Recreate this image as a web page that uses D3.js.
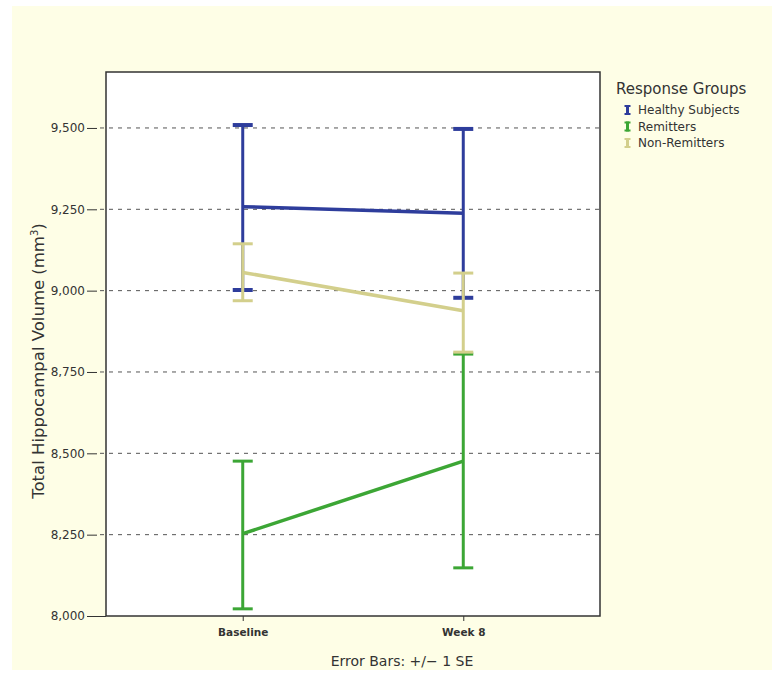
<html>
<head>
    <meta charset="UTF-8">
    <title>Hippocampal volume</title>
    <style>
        body { margin: 0; background: #fff; }
        text { font-family: "DejaVu Sans", "Open Sans", sans-serif; fill: #333; }
    </style>
</head>
<body>
<script src="https://d3js.org/d3.v7.min.js"></script>
<div id="chart"></div>
<script>
    // data
    var timepoints = ["Baseline", "Week 8"];
    var groups = ["Healthy Subjects", "Remitters", "Non-Remitters"];
    var groupColors = ["#2e3d9c", "#3ca635", "#d3cf8c"];
    var means = {
        "Healthy Subjects": [9258, 9238],
        "Remitters": [8253, 8476],
        "Non-Remitters": [9056, 8938]
    };
    var upper = {
        "Healthy Subjects": [9509, 9497],
        "Remitters": [8476, 8805],
        "Non-Remitters": [9144, 9054]
    };
    var lower = {
        "Healthy Subjects": [9002, 8978],
        "Remitters": [8022, 8148],
        "Non-Remitters": [8969, 8811]
    };
    var yTicks = [8000, 8250, 8500, 8750, 9000, 9250, 9500];
    var drawOrder = ["Healthy Subjects", "Remitters", "Non-Remitters"];

    var W = 780, H = 677;
    var margin = {top: 72, left: 106, right: 180, bottom: 61},
        width = W - margin.left - margin.right,
        height = H - margin.top - margin.bottom;

    var svg = d3.select("#chart").append("svg")
        .attr("width", W).attr("height", H);

    // cream page background
    svg.append("rect")
        .attr("x", 12).attr("y", 6)
        .attr("width", 760).attr("height", 664)
        .attr("fill", "#fefee6");

    var g = svg.append("g")
        .attr("transform", `translate(${margin.left},${margin.top})`);

    var x = d3.scalePoint().domain(timepoints).range([0, width]).padding(0.62);
    var y = d3.scaleLinear().domain([8000, 9672]).range([height, 0]);
    var color = d3.scaleOrdinal().domain(groups).range(groupColors);

    g.append("rect")
        .attr("width", width).attr("height", height)
        .attr("fill", "#fff");

    // dashed grid
    g.selectAll(".grid")
        .data(yTicks.filter(d => d > 8000))
        .enter().append("line")
        .attr("x1", -6).attr("x2", width)
        .attr("y1", d => y(d)).attr("y2", d => y(d))
        .attr("stroke", "#555")
        .attr("stroke-width", 1)
        .attr("stroke-dasharray", "4,5");

    // y axis: short tick sitting off the frame, like the original
    var yAxis = g.append("g")
        .call(d3.axisLeft(y).tickValues(yTicks).tickSize(19).tickSizeOuter(0).tickPadding(2).tickFormat(d3.format(",")));
    yAxis.select(".domain").remove();
    yAxis.selectAll("line").attr("stroke", "#333").attr("x2", -19).attr("x1", -9);
    yAxis.selectAll(".tick").filter(d => d === 8000).select("line").attr("x1", 0);
    yAxis.selectAll("text").style("font-size", "12px").attr("fill", "#333");

    // x axis
    var xAxis = g.append("g")
        .attr("transform", `translate(0,${height})`)
        .call(d3.axisBottom(x).tickSize(5).tickSizeOuter(0));
    xAxis.select(".domain").remove();
    xAxis.selectAll("line").attr("stroke", "#333");
    xAxis.selectAll("text").style("font-size", "10.5px").style("font-weight", "bold")
        .attr("fill", "#444").attr("dy", "1.1em");

    // series
    drawOrder.forEach(function(grp) {
        var c = color(grp);
        var pts = timepoints.map((t, i) => ({t: t, m: means[grp][i], hi: upper[grp][i], lo: lower[grp][i]}));
        var capW = 10;
        var layer = g.append("g");
        layer.selectAll(".bar").data(pts).enter().append("line")
            .attr("x1", d => x(d.t)).attr("x2", d => x(d.t))
            .attr("y1", d => y(d.hi)).attr("y2", d => y(d.lo))
            .attr("stroke", c).attr("stroke-width", 3);
        layer.selectAll(".capHi").data(pts).enter().append("line")
            .attr("x1", d => x(d.t) - capW).attr("x2", d => x(d.t) + capW)
            .attr("y1", d => y(d.hi)).attr("y2", d => y(d.hi))
            .attr("stroke", c).attr("stroke-width", grp === "Healthy Subjects" ? 4 : 3);
        layer.selectAll(".capLo").data(pts).enter().append("line")
            .attr("x1", d => x(d.t) - capW).attr("x2", d => x(d.t) + capW)
            .attr("y1", d => y(d.lo)).attr("y2", d => y(d.lo))
            .attr("stroke", c).attr("stroke-width", grp === "Healthy Subjects" ? 4 : 3);
        layer.append("path")
            .datum(pts)
            .attr("fill", "none")
            .attr("stroke", c)
            .attr("stroke-width", 3.5)
            .attr("d", d3.line().x(d => x(d.t)).y(d => y(d.m)));
    });

    // frame
    g.append("rect")
        .attr("width", width).attr("height", height)
        .attr("fill", "none").attr("stroke", "#333").attr("stroke-width", 1.5);

    // y title
    svg.append("text")
        .attr("transform", `translate(44,361) rotate(-90)`)
        .attr("text-anchor", "middle")
        .style("font-size", "16.5px")
        .attr("fill", "#333")
        .html('Total Hippocampal Volume (mm<tspan dy="-6" font-size="10px">3</tspan><tspan dy="6">)</tspan>');

    // footnote
    svg.append("text")
        .attr("x", 402).attr("y", 666)
        .attr("text-anchor", "middle")
        .style("font-size", "14px")
        .attr("fill", "#333")
        .text("Error Bars: +/\u2212 1 SE");

    // legend
    var legend = svg.append("g").attr("transform", "translate(616,94)");
    legend.append("text")
        .style("font-size", "15px").attr("fill", "#333")
        .text("Response Groups");
    var items = legend.selectAll(".item").data(groups).enter().append("g")
        .attr("transform", (d, i) => `translate(0,${20 + i * 16.5})`);
    items.append("rect")
        .attr("x", 10).attr("y", -9).attr("width", 3).attr("height", 10)
        .attr("fill", d => color(d));
    items.append("rect")
        .attr("x", 8.5).attr("y", -9).attr("width", 6).attr("height", 2)
        .attr("fill", d => color(d));
    items.append("rect")
        .attr("x", 8.5).attr("y", -1).attr("width", 6).attr("height", 2)
        .attr("fill", d => color(d));
    items.append("text")
        .attr("x", 22).attr("y", 0)
        .style("font-size", "12px").attr("fill", "#333")
        .text(d => d);
</script>
</body>
</html>
